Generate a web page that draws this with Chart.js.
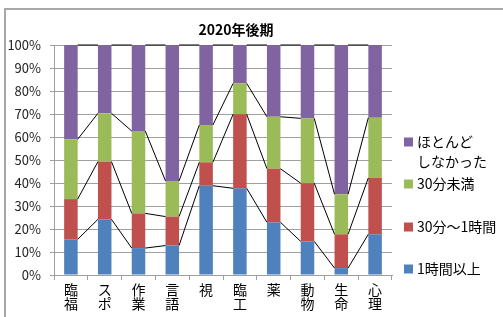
<!DOCTYPE html>
<html>
<head>
<meta charset="utf-8">
<script src="https://cdn.jsdelivr.net/npm/chart.js@4.4.0/dist/chart.umd.min.js"></script>
<style>
  body { margin: 0; background: #fff; }
</style>
</head>
<body>
<canvas id="myChart" width="503" height="317"></canvas>
<script>
const categories = [['臨','福'],['ス','ポ'],['作','業'],['言','語'],['視'],['臨','工'],['薬'],['動','物'],['生','命'],['心','理']];
const over1h    = [15.5, 24.2, 11.7, 12.8, 38.8, 37.7, 22.9, 14.6,  3.0, 17.7];
const min30to1h = [17.5, 25.1, 15.1, 12.6, 10.2, 32.2, 23.3, 25.3, 14.7, 24.5];
const under30   = [26.0, 21.0, 35.8, 15.5, 16.2, 13.4, 22.6, 28.2, 17.4, 26.2];
const hardly    = [41.0, 29.7, 37.4, 59.1, 34.8, 16.7, 31.2, 31.9, 64.9, 31.6];
const seriesNames = ['1時間以上', '30分～1時間', '30分未満', ['ほとんど', 'しなかった']];

const FONT = '"Noto Sans CJK JP", "Noto Sans", sans-serif';

// frame, title, series lines and legend drawn by hand
const extras = {
  id: 'extras',
  beforeDraw(chart) {
    const c = chart.ctx;
    c.save();
    c.strokeStyle = '#a8a8a8';
    c.lineWidth = 2;
    c.beginPath();
    c.moveTo(5, 317);
    c.lineTo(5, 9);
    c.lineTo(503, 9);
    c.stroke();
    c.restore();
  },
  afterDatasetsDraw(chart) {
    const c = chart.ctx;
    c.save();
    c.strokeStyle = '#000';
    c.lineWidth = 1;
    chart.data.datasets.forEach((ds, d) => {
      const bars = chart.getDatasetMeta(d).data;
      for (let i = 0; i < bars.length - 1; i++) {
        const a = bars[i], b = bars[i + 1];
        c.beginPath();
        c.moveTo(a.x + a.width / 2, a.y);
        c.lineTo(b.x - b.width / 2, b.y);
        c.stroke();
      }
    });
    c.restore();
  },
  afterDraw(chart) {
    const c = chart.ctx;
    c.save();
    c.fillStyle = '#000';
    c.font = 'bold 14px ' + FONT;
    c.textAlign = 'center';
    c.textBaseline = 'middle';
    c.fillText('2020年後期', 236, 30);

    // legend, reversed order
    const ys = [269, 227, 184, 142];
    c.font = '14px ' + FONT;
    c.textAlign = 'left';
    chart.data.datasets.forEach((ds, d) => {
      const y = ys[d];
      c.fillStyle = ds.backgroundColor;
      c.fillRect(404, y - 4.5, 9, 9);
      c.fillStyle = '#000';
      const lines = [].concat(seriesNames[d]);
      lines.forEach((t, k) => c.fillText(t, 417, y + k * 20));
    });
    c.restore();
  }
};

const ctx = document.getElementById('myChart').getContext('2d');
const myChart = new Chart(ctx, {
  type: 'bar',
  data: {
    labels: categories,
    datasets: [
      { label: '1時間以上',   data: over1h,    backgroundColor: '#4f81bd' },
      { label: '30分～1時間', data: min30to1h, backgroundColor: '#c0504d' },
      { label: '30分未満',    data: under30,   backgroundColor: '#9bbb59' },
      { label: 'ほとんどしなかった', data: hardly, backgroundColor: '#8064a2' }
    ]
  },
  options: {
    responsive: false,
    animation: false,
    barPercentage: 0.4,
    categoryPercentage: 1.0,
    layout: { padding: { top: 45, right: 111, bottom: 0, left: 0 } },
    plugins: {
      legend: { display: false },
      title: { display: false },
      tooltip: { enabled: false }
    },
    scales: {
      x: {
        stacked: true,
        afterFit: s => { s.height = 42; },
        grid: { drawOnChartArea: false, tickLength: 5, color: '#a0a0a0' },
        border: { color: '#a0a0a0' },
        ticks: {
          color: '#000',
          padding: 3,
          maxRotation: 0,
          autoSkip: false,
          font: { family: FONT, size: 14, lineHeight: 1.0 }
        }
      },
      y: {
        stacked: true,
        min: 0,
        max: 100,
        afterFit: s => { s.width = 54; },
        grid: { color: '#a0a0a0', tickLength: 4 },
        border: { color: '#a0a0a0' },
        ticks: {
          stepSize: 10,
          color: '#222',
          padding: 9,
          font: { family: FONT, size: 13 },
          callback: v => v + '%'
        }
      }
    }
  },
  plugins: [extras]
});
</script>
</body>
</html>
